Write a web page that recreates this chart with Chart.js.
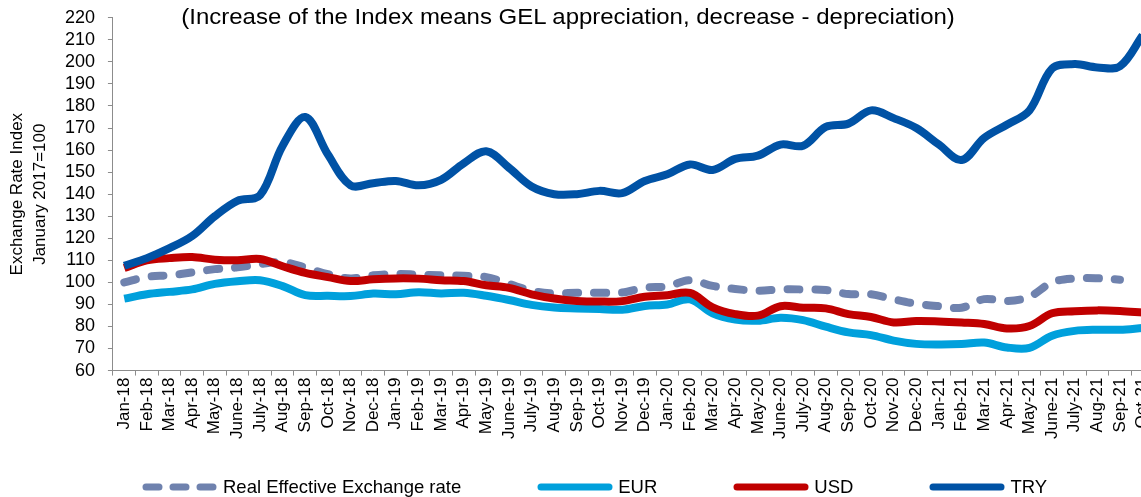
<!DOCTYPE html>
<html>
<head>
<meta charset="utf-8">
<script src="https://cdn.jsdelivr.net/npm/chart.js@4"></script>
<style>
  html, body { margin: 0; padding: 0; background: #fff; overflow: hidden; }
  body { width: 1141px; height: 497px; position: relative; font-family: "Liberation Sans", Arial, sans-serif; }
  #wrap { position: absolute; left: 0; top: -6px; width: 1165px; height: 503px; }
  #subtitle { position: absolute; left: 0; width: 1136px; top: 4px; text-align: center; font-size: 22px; color: #000; white-space: nowrap; transform: scaleX(1.09); transform-origin: 567px 0; }
  #legend { position: absolute; left: 142px; top: 476px; display: flex; align-items: center; font-size: 18.5px; color: #000; }
  .item { display: flex; align-items: center; margin-right: 76px; }
  .item svg { margin-right: 5px; }
</style>
</head>
<body>
<div id="wrap"><canvas id="kursChart"></canvas></div>
<div id="subtitle">(Increase of the Index means GEL appreciation, decrease - depreciation)</div>
<div id="legend"></div>
<script>
// bulan
const months = [
  "Jan-18", "Feb-18", "Mar-18", "Apr-18", "May-18", "June-18", "July-18", "Aug-18", "Sep-18", "Oct-18", "Nov-18", "Dec-18",
  "Jan-19", "Feb-19", "Mar-19", "Apr-19", "May-19", "June-19", "July-19", "Aug-19", "Sep-19", "Oct-19", "Nov-19", "Dec-19",
  "Jan-20", "Feb-20", "Mar-20", "Apr-20", "May-20", "June-20", "July-20", "Aug-20", "Sep-20", "Oct-20", "Nov-20", "Dec-20",
  "Jan-21", "Feb-21", "Mar-21", "Apr-21", "May-21", "June-21", "July-21", "Aug-21", "Sep-21", "Oct-21"
];

const reer = [100, 102.5, 103.2, 104.5, 106, 106.8, 108.3, 109.2, 106.7, 103.7, 101.8, 103.2,
  103.8, 103.5, 103.2, 103, 102.4, 99.3, 96.2, 95, 95.3, 95.3, 95.4, 97.6,
  98.2, 101, 98.4, 97, 96.2, 96.8, 96.8, 96.5, 94.7, 94.6, 92.3, 90.3,
  89.2, 88.5, 92.4, 91.5, 93.5, 100, 101.8, 101.9, 101.2, null];

const eur = [92.6, 94.6, 95.7, 96.8, 99.3, 100.5, 101, 98.3, 94.2, 93.9, 93.8, 94.9,
  94.6, 95.5, 95, 95.3, 93.9, 92, 89.8, 88.6, 88.2, 87.9, 87.6, 89.3,
  90, 92.3, 85.9, 83.1, 82.6, 84, 82.9, 79.9, 77.3, 76.1, 73.6, 72.1,
  71.8, 72, 72.7, 70.5, 70.3, 75.8, 78, 78.5, 78.5, 79.3];

const usd = [106.5, 110, 111, 111.5, 110.3, 110, 110.6, 107.3, 104.3, 102.4, 100.6, 101.4,
  101.8, 101.7, 101, 100.6, 98.7, 97.5, 94.6, 92.7, 91.6, 91.3, 91.5, 93.5,
  94.2, 95.2, 88.7, 85.6, 84.9, 89.2, 88.5, 88.2, 85.6, 84.3, 81.8, 82.5,
  82.3, 81.8, 81.1, 79.1, 80.2, 86, 86.9, 87.3, 87, 86.3];

const tryRate = [107.5, 111, 115.5, 121, 130, 137, 139.5, 162, 175, 158, 144, 145,
  146, 144, 146.5, 154, 159.5, 152, 143.5, 140, 140, 141.5, 140.5, 146,
  149, 153.5, 151, 156, 157.5, 162.5, 162, 170.5, 172, 178, 174.5, 170,
  162.5, 155.5, 165.5, 171.5, 178, 197, 199, 197.5, 198, 212];

const seriesNames = ["Real Effective Exchange rate", "EUR", "USD", "TRY"];
const seriesColors = ["#6f82ae", "#00a0dc", "#c00000", "#0052a5"];

const kursChart = new Chart(document.getElementById("kursChart"), {
  type: "line",
  data: {
    labels: months,
    datasets: [
      { label: seriesNames[0], data: reer, borderColor: seriesColors[0], borderDash: [12, 16], borderCapStyle: "round", order: 4 },
      { label: seriesNames[1], data: eur, borderColor: seriesColors[1], order: 3 },
      { label: seriesNames[2], data: usd, borderColor: seriesColors[2], order: 2 },
      { label: seriesNames[3], data: tryRate, borderColor: seriesColors[3], order: 1 },
    ],
  },
  options: {
    responsive: true,
    maintainAspectRatio: false,
    animation: false,
    layout: { padding: { left: 6, top: 2, right: 0, bottom: 56 } },
    elements: {
      line: { borderWidth: 8, tension: 0.35, fill: false, borderJoinStyle: "round" },
      point: { radius: 0 },
    },
    plugins: {
      legend: { display: false },
      tooltip: { enabled: false },
    },
    scales: {
      x: {
        offset: true,
        grid: { offset: true, drawOnChartArea: false, tickLength: 5, color: "#8c8c8c" },
        border: { color: "#8c8c8c" },
        ticks: {
          autoSkip: false,
          maxRotation: 90,
          minRotation: 90,
          padding: 2,
          color: "#000",
          font: { family: "Liberation Sans", size: 17 },
        },
      },
      y: {
        min: 60,
        max: 220,
        grid: { drawOnChartArea: false, tickLength: 5, color: "#8c8c8c" },
        border: { color: "#8c8c8c" },
        ticks: {
          stepSize: 10,
          autoSkip: false,
          padding: 13,
          color: "#000",
          font: { family: "Liberation Sans", size: 18 },
        },
        title: {
          display: true,
          text: ["Exchange Rate Index", "January 2017=100"],
          color: "#000",
          font: { family: "Liberation Sans", size: 17, lineHeight: 1.35 },
          padding: { top: 0, bottom: 0 },
        },
      },
    },
  },
});

// legenda manual (jarak antar item lebar)
const legendBox = document.getElementById("legend");
seriesNames.forEach((name, i) => {
  const dash = i === 0 ? ' stroke-dasharray="13 14"' : "";
  const item = document.createElement("div");
  item.className = "item";
  item.innerHTML =
    '<svg width="76" height="10"><line x1="4" y1="5" x2="72" y2="5" stroke="' + seriesColors[i] +
    '" stroke-width="7" stroke-linecap="round"' + dash + '/></svg><span>' + name + "</span>";
  legendBox.appendChild(item);
});
</script>
</body>
</html>
